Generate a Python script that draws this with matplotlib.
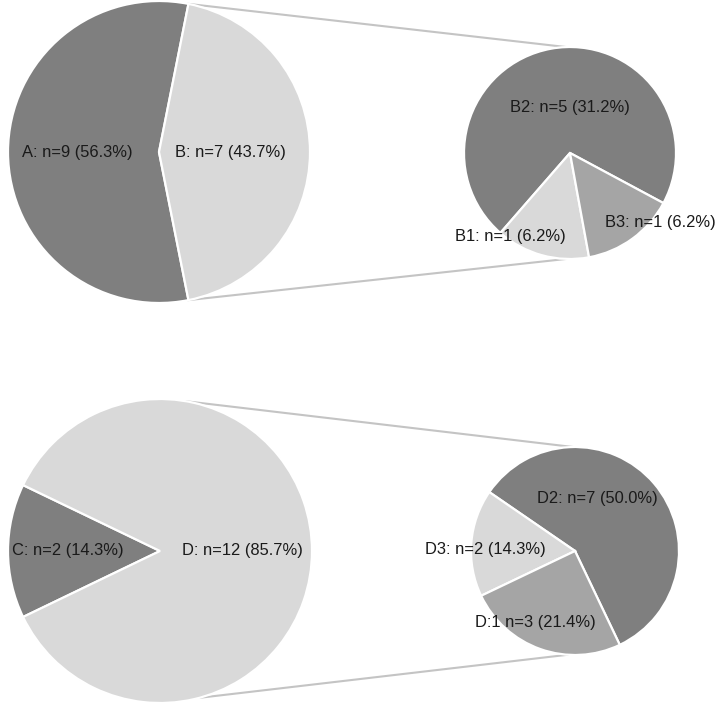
import matplotlib
matplotlib.use("Agg")
import matplotlib.pyplot as plt
import numpy as np

plt.rcParams['font.family'] = ['Liberation Sans', 'DejaVu Sans']

#------top pair-----#
top_big_labels = ["A: n=9 (56.3%)", "B: n=7 (43.7%)"]
top_big_counts = [9, 7]
top_small_labels = ["B2: n=5 (31.2%)", "B1: n=1 (6.2%)", "B3: n=1 (6.2%)"]
top_small_counts = [5, 1, 1]

#------bottom pair-----#
bot_big_labels = ["C: n=2 (14.3%)", "D: n=12 (85.7%)"]
bot_big_counts = [2, 12]
bot_small_labels = ["D2: n=7 (50.0%)", "D3: n=2 (14.3%)", "D:1 n=3 (21.4%)"]
bot_small_counts = [7, 2, 3]

dark = "#7f7f7f"
light = "#d9d9d9"
mid = "#a5a5a5"
line_col = "#c4c4c4"

W, H = 716, 708
fig = plt.figure(figsize=(W / 100, H / 100), dpi=100)
ax = fig.add_axes([0, 0, 1, 1])
ax.set_xlim(0, W)
ax.set_ylim(0, H)
ax.set_aspect("equal")
ax.axis("off")


def draw_pie(counts, labels, colors, center, radius, start, label_pos):
    wedges, _ = ax.pie(counts, colors=colors, startangle=start, counterclock=True,
                       center=center, radius=radius, frame=True,
                       wedgeprops=dict(edgecolor="white", linewidth=1.6))
    for lab, (fx, fy) in zip(labels, label_pos):
        ax.text(center[0] + fx * radius, center[1] + fy * radius, lab,
                ha="center", va="center", fontsize=11.9, color="#1a1a1a")
    return wedges


def connect(c1, r1, a1, c2, r2, a2):
    p1 = (c1[0] + r1 * np.cos(np.radians(a1)), c1[1] + r1 * np.sin(np.radians(a1)))
    p2 = (c2[0] + r2 * np.cos(np.radians(a2)), c2[1] + r2 * np.sin(np.radians(a2)))
    ax.plot([p1[0], p2[0]], [p1[1], p2[1]], color=line_col, lw=1.5, zorder=0)


# top
c_tb, r_tb = (159, 556), 151
c_ts, r_ts = (570, 555), 106
draw_pie(top_big_counts, top_big_labels, [dark, light], c_tb, r_tb, 78.75,
         [(-0.54, 0.0), (0.47, 0.0)])
draw_pie(top_small_counts, top_small_labels, [dark, light, mid], c_ts, r_ts, -28.2,
         [(0.0, 0.43), (-0.56, -0.79), (0.85, -0.66)])
connect(c_tb, r_tb, 78.75, c_ts, r_ts, 92)
connect(c_tb, r_tb, -78.75, c_ts, r_ts, 268)

# bottom
c_bb, r_bb = (160, 157), 152
c_bs, r_bs = (575, 157), 104
draw_pie(bot_big_counts, bot_big_labels, [dark, light], c_bb, r_bb, 154.3,
         [(-0.61, 0.0), (0.54, 0.0)])
draw_pie(bot_small_counts, bot_small_labels, [dark, light, mid], c_bs, r_bs, -64.5,
         [(0.21, 0.50), (-0.86, 0.01), (-0.38, -0.69)])
connect(c_bb, r_bb, 80, c_bs, r_bs, 91)
connect(c_bb, r_bb, -75, c_bs, r_bs, 266)

ax.set_xlim(0, W)
ax.set_ylim(0, H)
ax.axis("off")

fig.savefig("out.png", dpi=100)
